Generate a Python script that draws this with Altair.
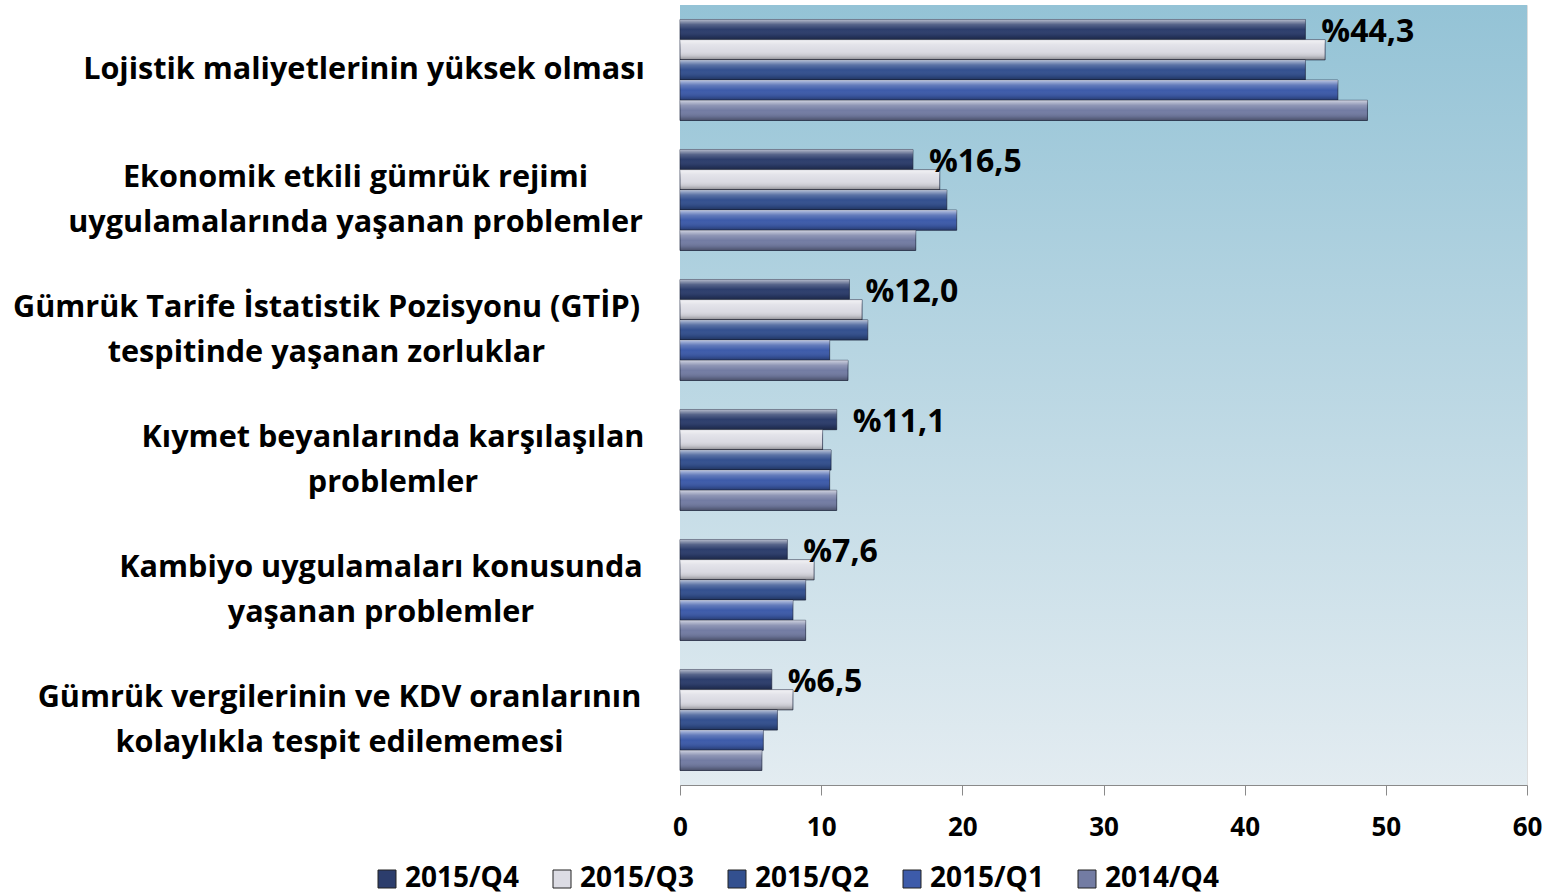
import altair as alt
import pandas as pd

categories = [
    "Lojistik maliyetlerinin yüksek olması",
    "Ekonomik etkili gümrük rejimi uygulamalarında yaşanan problemler",
    "Gümrük Tarife İstatistik Pozisyonu (GTİP) tespitinde yaşanan zorluklar",
    "Kıymet beyanlarında karşılaşılan problemler",
    "Kambiyo uygulamaları konusunda yaşanan problemler",
    "Gümrük vergilerinin ve KDV oranlarının kolaylıkla tespit edilememesi",
]
category_lines = [
    ["Lojistik maliyetlerinin yüksek olması"],
    ["Ekonomik etkili gümrük rejimi", "uygulamalarında yaşanan problemler"],
    ["Gümrük Tarife İstatistik Pozisyonu (GTİP)", "tespitinde yaşanan zorluklar"],
    ["Kıymet beyanlarında karşılaşılan", "problemler"],
    ["Kambiyo uygulamaları konusunda", "yaşanan problemler"],
    ["Gümrük vergilerinin ve KDV oranlarının", "kolaylıkla tespit edilememesi"],
]
series = ["2015/Q4", "2015/Q3", "2015/Q2", "2015/Q1", "2014/Q4"]
q4_2015 = [44.3, 16.5, 12.0, 11.1, 7.6, 6.5]
q3_2015 = [45.7, 18.4, 12.9, 10.1, 9.5, 8.0]
q2_2015 = [44.3, 18.9, 13.3, 10.7, 8.9, 6.9]
q1_2015 = [46.6, 19.6, 10.6, 10.6, 8.0, 5.9]
q4_2014 = [48.7, 16.7, 11.9, 11.1, 8.9, 5.8]
value_labels = ["%44,3", "%16,5", "%12,0", "%11,1", "%7,6", "%6,5"]
colors = ["#2C3D6C", "#DCDCE4", "#33508F", "#3D5BAA", "#737CA3"]
x_ticks = [0, 10, 20, 30, 40, 50, 60]

# layout only: approximate pixel width of each category label block
# (lines of a block are centred on each other, block right-aligned at the axis)
label_block_widths = [558, 575, 633, 500, 524, 607]

values_by_series = [q4_2015, q3_2015, q2_2015, q1_2015, q4_2014]
rows = []
for s, vals in zip(series, values_by_series):
    for i, (c, v) in enumerate(zip(categories, vals)):
        rows.append({"category": c, "series": s, "value": v,
                     "label": value_labels[i] if s == "2015/Q4" else ""})
df = pd.DataFrame(rows)

label_rows = []
for c, lines in zip(categories, category_lines):
    for j, ln in enumerate(lines):
        label_rows.append({"category": c, "line": ln, "idx": j, "n": len(lines)})
label_df = pd.DataFrame(label_rows)

FONT = "Open Sans"
LINE_H = 45
AXIS_GAP = 37

y_scale = alt.Scale(domain=categories, paddingInner=0.223, paddingOuter=0.1115)
y_enc = alt.Y(
    "category:N", sort=categories, scale=y_scale,
    axis=alt.Axis(title=None, labels=False, tickSize=13, tickBand="extent",
                  tickColor="#8a8a8a", domainColor="#8a8a8a", grid=False),
)
yoff_enc = alt.YOffset("series:N", sort=series, scale=alt.Scale(paddingInner=0, paddingOuter=0))
x_enc = alt.X(
    "value:Q", scale=alt.Scale(domain=[0, 60]),
    axis=alt.Axis(title=None, values=x_ticks, grid=False, labelFont=FONT, labelFontSize=26,
                  labelFontWeight="bold", labelColor="black", tickSize=10, labelPadding=19,
                  tickColor="#8a8a8a", domainColor="#8a8a8a", labelFlush=False),
)

bg = alt.Chart(pd.DataFrame({"k": [0]})).mark_rect(
    fill=alt.Gradient(gradient="linear", x1=0, y1=0, x2=0, y2=1, stops=[
        alt.GradientStop(offset=0, color="#94C3D6"),
        alt.GradientStop(offset=1, color="#E3ECF1"),
    ])
).encode(x=alt.value(0), x2=alt.value("width"), y=alt.value(0), y2=alt.value("height"))

base = alt.Chart(df)

bars = base.mark_bar(stroke="#1c2540", strokeWidth=1, strokeOpacity=0.7).encode(
    x=x_enc, y=y_enc, yOffset=yoff_enc,
    color=alt.Color("series:N", sort=series,
                    scale=alt.Scale(domain=series, range=colors),
                    legend=alt.Legend(title=None, orient="none", direction="horizontal",
                                      columns=5, legendX=-307, legendY=860,
                                      symbolType="square", symbolSize=324,
                                      symbolStrokeColor="#222", symbolStrokeWidth=1,
                                      labelFont=FONT, labelFontSize=28, labelFontWeight="bold",
                                      labelColor="black", columnPadding=29, labelOffset=4)),
)

shine = base.mark_bar(
    fill=alt.Gradient(gradient="linear", x1=0, y1=0, x2=0, y2=1, stops=[
        alt.GradientStop(offset=0, color="rgba(255,255,255,0.65)"),
        alt.GradientStop(offset=0.25, color="rgba(255,255,255,0.2)"),
        alt.GradientStop(offset=0.5, color="rgba(255,255,255,0)"),
        alt.GradientStop(offset=0.8, color="rgba(0,0,0,0.1)"),
        alt.GradientStop(offset=1, color="rgba(0,0,0,0.35)"),
    ])
).encode(x=x_enc, y=y_enc, yOffset=yoff_enc)

text = base.transform_filter(alt.datum.series == "2015/Q4").mark_text(
    align="left", baseline="middle", dx=16, dy=2, font=FONT, fontSize=32, fontWeight="bold",
    color="black"
).encode(x=x_enc, y=y_enc, yOffset=yoff_enc, text="label:N")

label_layers = []
for c, lines, w in zip(categories, category_lines, label_block_widths):
    n = len(lines)
    for j in range(n):
        dy = (j - (n - 1) / 2) * LINE_H
        label_layers.append(
            alt.Chart(label_df).transform_filter(
                (alt.datum.category == c) & (alt.datum.idx == j)
            ).mark_text(
                align="center", baseline="middle", dy=dy, font=FONT, fontSize=30.6,
                fontWeight="bold", color="black",
            ).encode(
                y=alt.Y("category:N", sort=categories, scale=y_scale, axis=None),
                x=alt.value(-(AXIS_GAP + w / 2)),
                text="line:N",
            )
        )

chart = alt.layer(bg, bars, shine, text, *label_layers).properties(
    width=847, height=780,
    autosize=alt.AutoSizeParams(type="none"),
    padding={"left": 680, "top": 5, "right": 26, "bottom": 110},
).configure_view(stroke=None).configure(background="white")

chart.save("out.html", embed_options={"renderer": "svg", "actions": False})
